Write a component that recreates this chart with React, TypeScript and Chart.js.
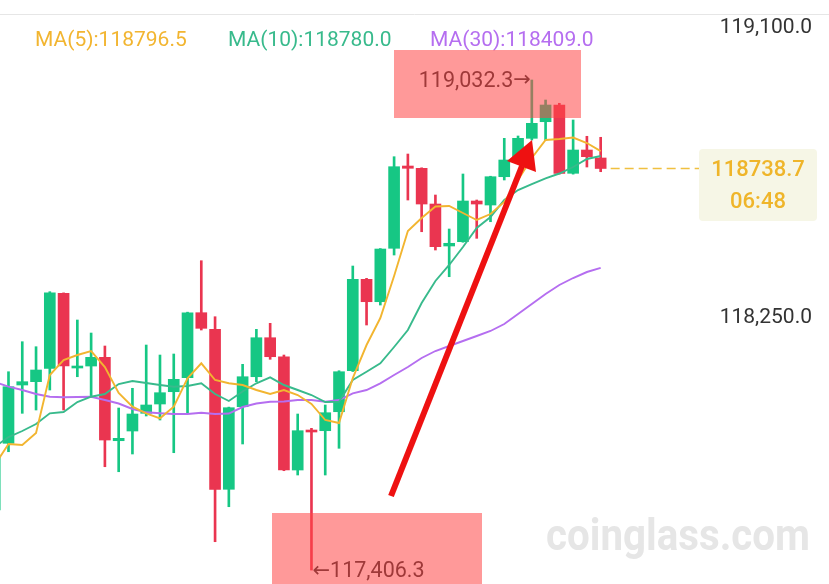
import React, { useEffect, useRef } from "react";
import { Chart, registerables } from "chart.js";

Chart.register(...registerables);

// ---- Data (15m candles, index 0 is partially visible at the left edge) ----
const opens = [
  117605.6, 117826.9, 118020.3, 118031.3, 118075.7, 118324.6, 118076.7, 118083.3, 118112.2, 117835.5,
  117867.7, 117926.4, 117957.3, 117998.1, 118044.5, 118260.2, 118205.1, 117674.3, 117948.3, 118047.8,
  118177.2, 118114.2, 117738.3, 117868.7, 117868.7, 117931.7, 118067.7, 118371.0, 118296.7, 118473.9,
  118746.9, 118739.3, 118620.8, 118481.5, 118495.8, 118630.8, 118617.5, 118711.4, 118773.5, 118838.8,
  118893.9, 118949.3, 118722.7, 118800.0, 118773.5,
];
const closes = [
  117788.1, 118014.7, 118031.3, 118070.1, 118326.5, 118083.3, 118083.3, 118112.2, 117837.8, 117843.5,
  117924.1, 117954.0, 117994.8, 118039.2, 118260.2, 118208.4, 117674.3, 117945.0, 118047.8, 118177.2,
  118114.2, 117738.3, 117868.7, 117864.4, 117928.4, 118064.4, 118371.0, 118296.7, 118471.5, 118744.6,
  118739.3, 118620.8, 118479.2, 118490.5, 118630.8, 118620.8, 118711.4, 118766.8, 118838.8, 118888.6,
  118949.3, 118722.7, 118800.0, 118777.8, 118738.7,
];
const highs = [
  117804.6, 118064.4, 118164.0, 118147.4, 118329.9, 118326.0, 118236.0, 118192.8, 118149.7, 117944.0,
  118009.4, 118153.0, 118119.8, 118123.2, 118262.0, 118432.7, 118246.9, 117947.0, 118089.0, 118205.1,
  118225.0, 118119.8, 117924.1, 117876.6, 117954.0, 118067.7, 118415.1, 118374.3, 118473.0, 118777.8,
  118786.7, 118741.0, 118650.7, 118537.9, 118720.4, 118634.1, 118713.0, 118838.8, 118846.5, 119032.3,
  118965.9, 118955.0, 118899.6, 118845.5, 118842.2,
];
const lows = [
  117560.0, 117799.0, 117926.4, 117937.4, 118003.7, 117937.4, 118047.8, 117981.5, 117749.2, 117732.6,
  117791.4, 117917.5, 117904.2, 117795.7, 117926.4, 118202.8, 117500.4, 117616.5, 117824.6, 118031.3,
  118105.6, 117736.0, 117721.7, 117406.3, 117721.7, 117810.3, 118065.0, 118219.4, 118285.7, 118451.6,
  118634.1, 118528.9, 118468.2, 118379.6, 118494.0, 118507.0, 118562.1, 118700.5, 118766.8, 118833.2,
  118833.2, 118720.0, 118720.0, 118743.6, 118728.0,
];
const ma5 = [
  117754.9, 117824.6, 117821.2, 117861.0, 118053.5, 118103.3, 118119.8, 118133.1, 118080.0, 117993.8,
  117948.3, 117926.4, 117909.8, 117948.3, 118042.5, 118092.3, 118036.9, 118026.0, 118020.3, 118003.7,
  117990.4, 118003.7, 117987.1, 117957.3, 117904.2, 117894.2, 118043.5, 118153.0, 118242.6, 118382.0,
  118531.3, 118574.4, 118612.6, 118614.2, 118591.0, 118567.8, 118587.7, 118627.5, 118700.5, 118773.5,
  118833.2, 118836.5, 118841.5, 118823.2, 118796.5,
];
const ma10 = [
  117814.6, 117847.8, 117867.7, 117890.9, 117926.4, 117930.7, 117963.9, 117981.5, 117990.5, 118023.6,
  118033.6, 118026.9, 118020.3, 118014.7, 118017.0, 118026.0, 117990.5, 117967.2, 117998.7, 118026.0,
  118045.9, 118020.3, 118003.7, 117987.1, 117963.9, 117964.9, 118036.9, 118064.4, 118092.3, 118146.4,
  118202.8, 118292.4, 118365.4, 118418.5, 118478.2, 118541.2, 118577.7, 118634.1, 118667.3, 118687.2,
  118706.1, 118722.0, 118743.6, 118770.2, 118780.0,
];
const ma30 = [
  118030.3, 118014.7, 118003.7, 117990.5, 117981.5, 117979.5, 117980.5, 117981.5, 117970.5, 117958.9,
  117940.7, 117929.7, 117926.4, 117924.1, 117924.1, 117928.4, 117924.1, 117925.8, 117947.3, 117958.9,
  117964.9, 117965.6, 117970.5, 117970.5, 117964.9, 117970.5, 117992.8, 118003.7, 118026.0, 118053.5,
  118080.0, 118109.9, 118133.1, 118149.7, 118166.3, 118182.9, 118199.5, 118222.7, 118255.9, 118289.1,
  118322.2, 118352.1, 118375.3, 118395.2, 118409.0,
];
const axisTickValues = [119100, 118250];
const axisTickLabels = ["119,100.0", "118,250.0"];
const legendLabels = ["MA(5):118796.5", "MA(10):118780.0", "MA(30):118409.0"];
const highLabel = "119,032.3";
const lowLabel = "117,406.3";
const highIndex = 39;
const lowIndex = 23;
const lastPriceLabel = "118738.7";
const countdownLabel = "06:48";

const UP = "#16c784";
const DOWN = "#ea3550";
const C5 = "#f2b530";
const C10 = "#38ba8c";
const C30 = "#b56ef0";
const FONT = "Roboto, 'Noto Sans', sans-serif";
const ARROW_FONT = "'DejaVu Sans', sans-serif";

const overlayPlugin = {
  id: "overlay",
  beforeDatasetsDraw(chart: any) {
    const { ctx } = chart;
    ctx.save();
    // watermark
    ctx.fillStyle = "#e6e6e6";
    ctx.font = `bold 44px ${FONT}`;
    ctx.textBaseline = "alphabetic";
    ctx.textAlign = "left";
    const w = ctx.measureText("coinglass.com").width;
    ctx.translate(546, 550);
    ctx.scale(264 / w, 1);
    ctx.fillText("coinglass.com", 0, 0);
    ctx.restore();
  },
  afterDatasetsDraw(chart: any) {
    const { ctx } = chart;
    const xs = chart.scales.x;
    const ys = chart.scales.y;
    ctx.save();

    // top separator line
    ctx.strokeStyle = "#e6e6e6";
    ctx.lineWidth = 1;
    ctx.beginPath();
    ctx.moveTo(0, 14.5);
    ctx.lineTo(829, 14.5);
    ctx.stroke();

    // legend
    ctx.font = `21px ${FONT}`;
    ctx.textBaseline = "middle";
    ctx.textAlign = "left";
    const legendX = [35, 228, 430];
    const legendC = [C5, C10, C30];
    legendLabels.forEach((t, i) => {
      ctx.fillStyle = legendC[i];
      ctx.fillText(t, legendX[i], 41);
    });

    // axis labels (right side)
    ctx.font = `21px ${FONT}`;
    ctx.fillStyle = "#333";
    ctx.textAlign = "right";
    const labelOffsets = [-32, 2];
    axisTickValues.forEach((v, i) => {
      const y = ys.getPixelForValue(v) + labelOffsets[i];
      ctx.fillText(axisTickLabels[i], 812, y);
    });

    // last price dashed line
    const lastIdx = closes.length - 1;
    const py = ys.getPixelForValue(closes[lastIdx]);
    ctx.strokeStyle = "#f0c040";
    ctx.lineWidth = 1.5;
    ctx.setLineDash([9, 5]);
    ctx.beginPath();
    ctx.moveTo(xs.getPixelForValue(lastIdx) + 10, py);
    ctx.lineTo(700, py);
    ctx.stroke();
    ctx.setLineDash([]);

    // last price box
    ctx.fillStyle = "#f6f6e6";
    ctx.beginPath();
    (ctx as any).roundRect(699, 149, 118, 72, 4);
    ctx.fill();
    ctx.fillStyle = "#efb52a";
    ctx.font = `500 22px ${FONT}`;
    ctx.textAlign = "center";
    ctx.fillText(lastPriceLabel, 758, py + 2);
    ctx.fillText(countdownLabel, 758, py + 34);

    // high / low labels with arrows
    ctx.fillStyle = "#2a2a2a";
    const hx = xs.getPixelForValue(highIndex);
    const hy = ys.getPixelForValue(highs[highIndex]);
    ctx.textAlign = "right";
    ctx.font = `21px ${ARROW_FONT}`;
    const aw = ctx.measureText("→").width;
    ctx.fillText("→", hx - 1, hy + 1);
    ctx.font = `21.5px ${FONT}`;
    ctx.fillText(highLabel, hx - 1 - aw, hy + 2);

    const lx = xs.getPixelForValue(lowIndex);
    const ly = ys.getPixelForValue(lows[lowIndex]);
    ctx.textAlign = "left";
    ctx.font = `21px ${ARROW_FONT}`;
    const lw = ctx.measureText("←").width;
    ctx.fillText("←", lx + 1, ly + 1);
    ctx.font = `21.5px ${FONT}`;
    ctx.fillText(lowLabel, lx + 1 + lw, ly + 2);

    // pink highlight boxes
    ctx.fillStyle = "rgba(255, 70, 70, 0.55)";
    ctx.fillRect(394, 50, 187, 68);
    ctx.fillRect(272, 513, 210, 71);

    // red arrow
    ctx.strokeStyle = "#ee1111";
    ctx.fillStyle = "#ee1111";
    ctx.lineWidth = 6;
    ctx.beginPath();
    ctx.moveTo(391, 496);
    ctx.lineTo(522, 166);
    ctx.stroke();
    ctx.beginPath();
    ctx.moveTo(532, 140);
    ctx.lineTo(507, 161);
    ctx.lineTo(536, 172);
    ctx.closePath();
    ctx.fill();

    ctx.restore();
  },
};

export default function App() {
  const ref = useRef<HTMLCanvasElement | null>(null);
  useEffect(() => {
    document.body.style.margin = "0";
    const canvas = ref.current;
    if (!canvas) return;
    const colors = opens.map((o, i) => (closes[i] >= o ? UP : DOWN));
    const chart = new Chart(canvas, {
      type: "bar",
      data: {
        datasets: [
          {
            type: "line",
            data: ma5.map((v, i) => ({ x: i, y: v })),
            borderColor: C5,
            borderWidth: 1.9,
            pointRadius: 0,
            order: 0,
          } as any,
          {
            type: "line",
            data: ma10.map((v, i) => ({ x: i, y: v })),
            borderColor: C10,
            borderWidth: 1.9,
            pointRadius: 0,
            order: 0,
          } as any,
          {
            type: "line",
            data: ma30.map((v, i) => ({ x: i, y: v })),
            borderColor: C30,
            borderWidth: 1.9,
            pointRadius: 0,
            order: 0,
          } as any,
          {
            type: "bar",
            data: opens.map((o, i) => ({ x: i, y: [o, closes[i]] })),
            backgroundColor: colors,
            grouped: false,
            categoryPercentage: 1,
            barPercentage: 1,
            maxBarThickness: 11,
            minBarLength: 2,
            order: 1,
          } as any,
          {
            type: "bar",
            data: lows.map((l, i) => ({ x: i, y: [l, highs[i]] })),
            backgroundColor: colors,
            grouped: false,
            categoryPercentage: 1,
            barPercentage: 1,
            maxBarThickness: 2,
            order: 2,
          } as any,
        ],
      },
      options: {
        responsive: false,
        animation: false,
        devicePixelRatio: 1,
        layout: { padding: 0 },
        plugins: { legend: { display: false }, tooltip: { enabled: false } },
        scales: {
          x: { type: "linear", min: 0.383, max: 60.58, offset: false, bounds: "ticks", display: false },
          y: { type: "linear", min: 117360.1, max: 119297.7, display: false },
        },
      } as any,
      plugins: [overlayPlugin],
    });
    return () => chart.destroy();
  }, []);
  return (
    <div style={{ position: "absolute", left: 0, top: 0, width: 829, height: 584, background: "#fff" }}>
      <canvas ref={ref} width={829} height={584} />
    </div>
  );
}
